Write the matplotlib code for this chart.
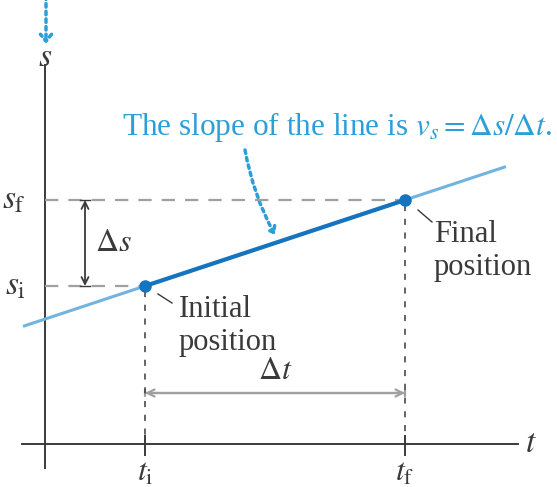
import matplotlib
matplotlib.use("Agg")
import matplotlib.pyplot as plt
from matplotlib.patches import FancyArrowPatch

# -------- data (t and s in diagram units) --------
t_points = [1.0, 3.6]          # t_i, t_f
s_points = [1.58, 2.44]        # s_i, s_f
t_line = [-0.22, 4.61]         # extent of the light blue line
t_labels = [r"$t_{\mathrm{i}}$", r"$t_{\mathrm{f}}$"]
s_labels = [r"$s_{\mathrm{i}}$", r"$s_{\mathrm{f}}$"]
# -------------------------------------------------

plt.rcParams["font.family"] = ["Liberation Serif", "DejaVu Serif"]
plt.rcParams["mathtext.fontset"] = "stix"

DARK = "#3a3a3a"
GRAY = "#a0a0a0"
BLUE_TXT = "#2b9fd8"
BLUE_LIGHT = "#72b3e0"
BLUE_DARK = "#1474c0"

fig = plt.figure(figsize=(5.57, 4.87), dpi=100)
ax = fig.add_axes([0, 0, 1, 1])
ax.set_xlim(-0.45, 5.12)
ax.set_ylim(-0.43, 4.44)
ax.axis("off")

ti, tf = t_points
si, sf = s_points
slope = (sf - si) / (tf - ti)

# axes
ax.plot([-0.23, 4.73], [0, 0], color=DARK, lw=1.4)
ax.plot([0, 0], [-0.24, 3.79], color=DARK, lw=1.4)
ax.text(4.80, 0.0, r"$t$", fontsize=24, color=DARK, ha="left", va="center")
ax.text(0.0, 3.86, r"$s$", fontsize=24, color=DARK, ha="center", va="center")

# dotted arrow above s axis
ax.add_patch(FancyArrowPatch((0.01, 4.48), (0.01, 4.00), arrowstyle="->,head_length=5,head_width=4",
                             color=BLUE_TXT, lw=2.5, linestyle=(0, (1, 1.2)), shrinkA=0, shrinkB=0))

# ticks on the t axis
for t in t_points:
    ax.plot([t, t], [-0.11, 0.08], color=DARK, lw=1.4)

# dashed guides
ax.plot([0, tf], [sf, sf], color=GRAY, lw=1.6, dashes=(6, 4.5))
ax.plot([0, ti], [si, si], color=GRAY, lw=1.6, dashes=(6, 4.5))
ax.plot([ti, ti], [si - 0.05, 0], color=DARK, lw=1.1, dashes=(4, 5))
ax.plot([tf, tf], [sf - 0.05, 0], color=DARK, lw=1.1, dashes=(4, 5))

# the line and the segment
ax.plot(t_line, [si + slope * (t - ti) for t in t_line], color=BLUE_LIGHT, lw=2.2, solid_capstyle="butt")
ax.plot(t_points, s_points, color=BLUE_DARK, lw=3.0)
ax.plot(t_points, s_points, "o", color=BLUE_DARK, ms=8)

# axis value labels
for t, lab in zip(t_points, t_labels):
    ax.text(t, -0.29, lab, fontsize=23, color=DARK, ha="center", va="center")
for s, lab in zip(s_points, s_labels):
    ax.text(-0.19, s, lab, fontsize=24, color=DARK, ha="right", va="center")

# delta s arrow
ax.add_patch(FancyArrowPatch((0.40, sf), (0.40, si), arrowstyle="<->,head_length=5,head_width=2.5",
                             color=DARK, lw=1.3, shrinkA=0, shrinkB=0))
ax.plot([0.35, 0.45], [sf, sf], color=DARK, lw=1.0)
ax.plot([0.35, 0.45], [si, si], color=DARK, lw=1.0)
ax.text(0.50, (si + sf) / 2, r"$\Delta s$", fontsize=23, color=DARK, ha="left", va="center")

# delta t arrow
ax.add_patch(FancyArrowPatch((ti, 0.51), (tf, 0.51), arrowstyle="|-|,widthA=2,widthB=2",
                             color=GRAY, lw=1.6, shrinkA=0, shrinkB=0))
ax.add_patch(FancyArrowPatch((ti, 0.51), (tf, 0.51), arrowstyle="<->,head_length=5,head_width=2.5",
                             color=GRAY, lw=1.6, shrinkA=0, shrinkB=0))
ax.text((ti + tf) / 2, 0.58, r"$\Delta t$", fontsize=23, color=DARK, ha="center", va="bottom")

# position labels
ax.plot([1.13, 1.27], [1.50, 1.41], color=DARK, lw=1.0)
ax.text(1.34, 1.49, "Initial\nposition", fontsize=22, color=DARK, ha="left", va="top", linespacing=1.2)
ax.plot([3.73, 3.87], [2.34, 2.22], color=DARK, lw=1.0)
ax.text(3.89, 2.24, "Final\nposition", fontsize=22, color=DARK, ha="left", va="top", linespacing=1.2)

# slope annotation
ax.text(0.77, 3.17, r"The slope of the line is $v_s = \Delta s/\Delta t$.", fontsize=22.5,
        color=BLUE_TXT, ha="left", va="center")
ax.add_patch(FancyArrowPatch((2.00, 2.94), (2.30, 2.09), connectionstyle="arc3,rad=0.08",
                             arrowstyle="->,head_length=4,head_width=3", color=BLUE_TXT,
                             lw=2.5, linestyle=(0, (1, 1.2)), shrinkA=0, shrinkB=0))

fig.savefig("out.png", dpi=100)
